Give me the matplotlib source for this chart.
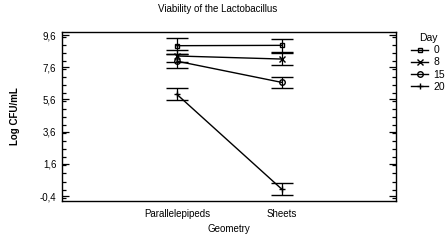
import matplotlib
matplotlib.use("Agg")
import matplotlib.pyplot as plt
from matplotlib import font_manager
from matplotlib.ticker import MultipleLocator, FuncFormatter, FixedLocator

names = {f.name for f in font_manager.fontManager.ttflist}
fam = [n for n in ["Liberation Sans Narrow", "Liberation Sans", "DejaVu Sans"] if n in names]
plt.rcParams['font.family'] = fam

categories = ["Parallelepipeds", "Sheets"]
days = ["0", "8", "15", "20"]
means = {
    "0": [8.94, 8.96],
    "8": [8.30, 8.11],
    "15": [7.98, 6.66],
    "20": [5.92, 0.03],
}
errs = {
    "0": [0.50, 0.40],
    "8": [0.35, 0.37],
    "15": [0.42, 0.36],
    "20": [0.36, 0.36],
}
markers = {"0": "s", "8": "x", "15": "o", "20": "+"}
msizes = {"0": 2.6, "8": 3.8, "15": 4.0, "20": 4.5}
yticks = [-0.4, 1.6, 3.6, 5.6, 7.6, 9.6]

fig = plt.figure(figsize=(4.48, 2.40), dpi=100)
ax = fig.add_axes([62/448, 1-201/240, (396-62)/448, (201-32)/240])

x = list(range(len(categories)))
handles = []
for d in days:
    ax.errorbar(x, means[d], yerr=errs[d], color="black", lw=1.0,
                marker=markers[d], ms=msizes[d], mfc="none", mec="black", mew=1.0,
                capsize=8, capthick=1.0, elinewidth=0.9, label=d)
    h, = ax.plot([], [], color="black", lw=1.0, marker=markers[d], ms=msizes[d],
                 mfc="none", mec="black", mew=1.0)
    handles.append(h)

ax.set_xlim(-1.095, 2.09)
ax.set_ylim(-0.71, 9.79)
ax.set_xticks(x)
ax.set_xticklabels(categories, fontsize=7)
ax.tick_params(axis="x", length=0, pad=6)
ax.yaxis.set_major_locator(FixedLocator(yticks))
ax.yaxis.set_minor_locator(MultipleLocator(0.5))
ax.yaxis.set_major_formatter(FuncFormatter(lambda v, p: f"{v:.1f}".replace(".", ",")))
ax.tick_params(axis="y", which="major", direction="in", length=5, width=0.9, labelsize=7,
               right=True, pad=4)
ax.tick_params(axis="y", which="minor", direction="in", length=3, width=0.9, right=True)
for s in ax.spines.values():
    s.set_linewidth(1.0)

ax.set_xlabel("Geometry", fontsize=7, labelpad=3)
ax.set_ylabel("Log CFU/mL", fontsize=7, fontweight="bold", labelpad=14)
fig.text(218/448, 1-9/240, "Viability of the Lactobacillus", ha="center", va="center", fontsize=7)

fig.legend(handles, days, title="Day", loc="upper left",
           bbox_to_anchor=(404/448, 1-26/240), frameon=False, fontsize=7.5,
           title_fontsize=7.5, handlelength=1.6, handletextpad=0.5,
           labelspacing=0.2, borderpad=0.2)

fig.savefig("out.png", dpi=100)
